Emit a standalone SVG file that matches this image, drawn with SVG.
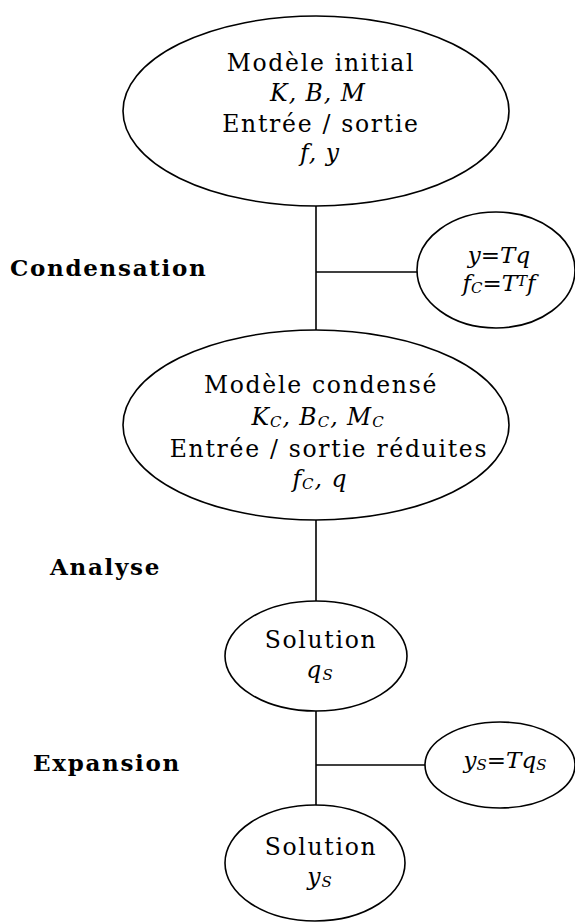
<svg xmlns="http://www.w3.org/2000/svg" width="575" height="924" viewBox="0 0 575 924">
  <style>
    .node { fill: #fff; stroke: #000; stroke-width: 1.6; }
    .link { stroke: #000; stroke-width: 1.6; fill: none; }
    .t { font-family: "DejaVu Serif", "Liberation Serif", serif; font-size: 23.5px; letter-spacing: 1.7px; text-anchor: middle; fill: #000; }
    .i { font-style: italic; letter-spacing: 1px; }
    .f { font-family: "DejaVu Serif", "Liberation Serif", serif; font-style: italic; font-size: 23px; text-anchor: middle; fill: #000; }
    .sub { font-size: 15px; }
    .step { font-family: "DejaVu Serif", "Liberation Serif", serif; font-weight: bold; font-size: 23px; letter-spacing: 1.7px; fill: #000; }
  </style>
  <rect width="575" height="924" fill="#fff"/>

  <g id="connectors">
    <line class="link" x1="316" y1="206" x2="316" y2="330"/>
    <line class="link" x1="316" y1="272" x2="418" y2="272"/>
    <line class="link" x1="316" y1="520" x2="316" y2="601"/>
    <line class="link" x1="316" y1="710" x2="316" y2="806"/>
    <line class="link" x1="316" y1="765" x2="426" y2="765"/>
  </g>

  <g id="step-labels">
    <text class="step" x="10" y="276">Condensation</text>
    <text class="step" x="50" y="575">Analyse</text>
    <text class="step" x="33" y="771">Expansion</text>
  </g>

  <g id="initial-model">
    <ellipse class="node" cx="316" cy="111" rx="193" ry="95"/>
    <text class="t" x="321" y="71">Modèle initial</text>
    <text class="t i" x="318" y="101">K, B, M</text>
    <text class="t" x="321" y="132">Entrée / sortie</text>
    <text class="t i" x="320" y="161">f, y</text>
  </g>

  <g id="condensation-transform">
    <ellipse class="node" cx="496" cy="270" rx="79" ry="58"/>
    <text class="f" x="499" y="263">y=Tq</text>
    <text class="f" x="499" y="291">f<tspan class="sub" dy="2">C</tspan><tspan dy="-2">=T</tspan><tspan class="sub" dy="-5">T</tspan><tspan dy="5">f</tspan></text>
  </g>

  <g id="condensed-model">
    <ellipse class="node" cx="316" cy="425" rx="193" ry="95"/>
    <text class="t" x="321" y="393">Modèle condensé</text>
    <text class="t i" x="318" y="425">K<tspan class="sub" dy="2">C</tspan><tspan dy="-2">, B</tspan><tspan class="sub" dy="2">C</tspan><tspan dy="-2">, M</tspan><tspan class="sub" dy="2">C</tspan></text>
    <text class="t" x="329" y="457">Entrée / sortie réduites</text>
    <text class="t i" x="320" y="487">f<tspan class="sub" dy="2">C</tspan><tspan dy="-2">, q</tspan></text>
  </g>

  <g id="reduced-solution">
    <ellipse class="node" cx="316" cy="656" rx="91" ry="55"/>
    <text class="t" x="321" y="648">Solution</text>
    <text class="t i" x="320" y="678">q<tspan class="sub" dy="2">S</tspan></text>
  </g>

  <g id="expansion-transform">
    <ellipse class="node" cx="500" cy="765" rx="75" ry="43"/>
    <text class="f" x="505" y="768">y<tspan class="sub" dy="2">S</tspan><tspan dy="-2">=Tq</tspan><tspan class="sub" dy="2">S</tspan></text>
  </g>

  <g id="full-solution">
    <ellipse class="node" cx="315" cy="863" rx="90" ry="58"/>
    <text class="t" x="321" y="855">Solution</text>
    <text class="t i" x="320" y="885">y<tspan class="sub" dy="2">S</tspan></text>
  </g>
</svg>
